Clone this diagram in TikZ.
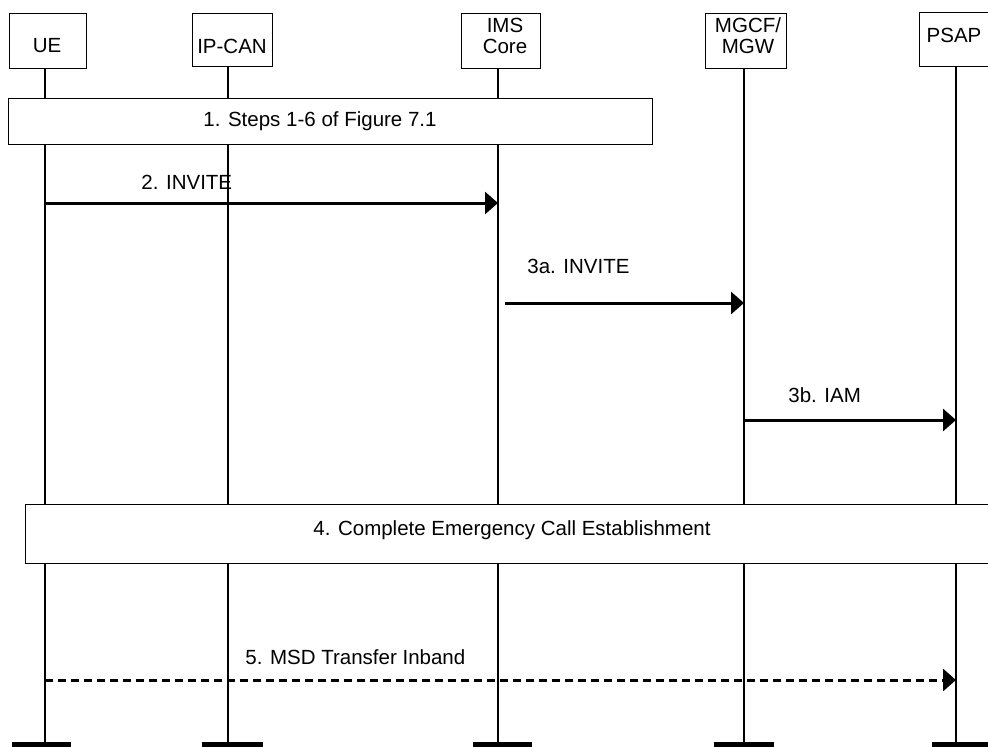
\documentclass[tikz,border=0pt]{standalone}
\usepackage{fontspec}
\setmainfont{Liberation Sans}
\usetikzlibrary{arrows.meta}
\begin{document}
\begin{tikzpicture}[x=0.5pt,y=-0.5pt,
  box/.style={draw=black, line width=0.5pt, fill=white, inner sep=0},
  txt/.style={inner sep=0, font=\fontsize{10.25}{10.5}\selectfont, align=center},
  lbl/.style={inner sep=0, anchor=base west, font=\fontsize{10.25}{12.5}\selectfont},
  life/.style={line width=0.6pt},
  barbox/.style={fill=black, draw=none, inner sep=0, anchor=north west, minimum height=4pt},
  msg/.style={line width=1.5pt, -{Triangle[length=6.5pt,width=11pt]}},
  dmsg/.style={msg, dash pattern=on 4pt off 2.5pt}]
\clip (0,0) rectangle (988,746);
\fill[white] (0,0) rectangle (988,746);
% header boxes
\node[box, minimum width=38.5pt, minimum height=27.5pt] (ue) at (47.5,40.5) {};
\node[box, minimum width=40pt, minimum height=26.5pt] (ipcan) at (232,39.5) {};
\node[box, minimum width=39.5pt, minimum height=27.5pt] (ims) at (500.5,40.5) {};
\node[box, minimum width=40.5pt, minimum height=27.5pt] (mgcf) at (745.5,40.5) {};
\node[box, minimum width=40.5pt, minimum height=27pt] (psap) at (959.5,39) {};
\node[txt] (uet) at (47,46) {UE};
\node[txt] (ipcant) at (232,46) {IP-CAN};
\node[txt] (imst) at (505,35.5) {IMS\\Core};
\node[txt] (mgcft) at (748,35.5) {MGCF/\\MGW};
\node[txt] (psapt) at (954,35) {PSAP};
% lifeline x positions
\coordinate (ueL) at (45,0);
\coordinate (ipL) at (228,0);
\coordinate (imsL) at (498,0);
\coordinate (mgL) at (744,0);
\coordinate (psL) at (956,0);
% bottom bars
\node[barbox, minimum width=29.5pt] (uebar) at (12,742) {};
\node[barbox, minimum width=30.5pt] (ipbar) at (202,742) {};
\node[barbox, minimum width=29.5pt] (imsbar) at (473,742) {};
\node[barbox, minimum width=30pt] (mgbar) at (714,742) {};
\node[barbox, minimum width=30pt] (psbar) at (932,742) {};
% lifelines
\draw[life] (ueL |- ue.south) -- (ueL |- uebar.north);
\draw[life] (ipL |- ipcan.south) -- (ipL |- ipbar.north);
\draw[life] (imsL |- ims.south) -- (imsL |- imsbar.north);
\draw[life] (mgL |- mgcf.south) -- (mgL |- mgbar.north);
\draw[life] (psL |- psap.south) -- (psL |- psbar.north);
% step boxes
\node[box, minimum width=322pt, minimum height=23pt] (s1) at (330,121) {};
\node[txt] (s1t) at (320,121) {1. Steps 1-6 of Figure 7.1};
\node[box, minimum width=487.5pt, minimum height=29.5pt] (s4) at (512.5,533.5) {};
\node[txt] (s4t) at (512,530) {4. Complete Emergency Call Establishment};
% messages
\draw[msg] (ueL |- 0,203) -- (imsL |- 0,203);
\node[lbl] (l2) at (141,189) {2. INVITE};
\draw[msg] ([xshift=3.5pt]imsL |- 0,303) -- (mgL |- 0,303);
\node[lbl] (l3a) at (527,273) {3a. INVITE};
\draw[msg] (mgL |- 0,420) -- (psL |- 0,420);
\node[lbl] (l3b) at (788,402) {3b. IAM};
\draw[dmsg] (ueL |- 0,680) -- (psL |- 0,680);
\node[lbl] (l5) at (245,664) {5. MSD Transfer Inband};
\end{tikzpicture}
\end{document}
